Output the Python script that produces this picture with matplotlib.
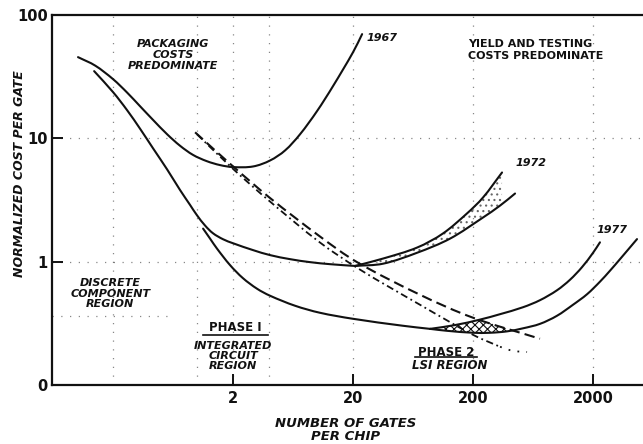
import numpy as np
import matplotlib
matplotlib.use("Agg")
import matplotlib.pyplot as plt
from matplotlib.path import Path
from matplotlib.patches import PathPatch

# ---- cost-per-gate curves: gates per chip vs. normalized cost per gate ----
gates_1967 = [0.102, 0.142, 0.2, 0.262, 0.336, 0.431, 0.564, 0.723, 0.928, 1.21,
              1.56, 2.0, 2.94, 4.07, 5.43, 7.23, 10.0, 13.6, 20.0, 23.8]
cost_1967 = [45.6, 38.9, 30.2, 23.5, 18.2, 14.1, 10.8, 8.71, 7.34, 6.53,
             6.07, 5.85, 5.92, 6.62, 7.99, 10.8, 16.6, 26.5, 50.0, 70.1]

gates_1972 = [0.139, 0.2, 0.262, 0.336, 0.431, 0.564, 0.723, 0.877, 1.0, 1.17,
              1.36, 1.65, 2.0, 2.94, 4.07, 5.97, 8.77, 12.9, 20.8]
cost_1972 = [35.1, 23.7, 16.9, 11.95, 8.29, 5.60, 3.81, 2.88, 2.38, 1.96,
             1.70, 1.52, 1.41, 1.24, 1.13, 1.048, 0.991, 0.954, 0.923]
gates_1972_hi = [20.8, 35.6, 68.2, 112, 178, 242, 349]
cost_1972_hi = [0.923, 1.06, 1.30, 1.69, 2.46, 3.31, 5.29]
gates_1972_lo = [20.8, 35.6, 68.2, 129, 242, 336, 448]
cost_1972_lo = [0.923, 0.963, 1.18, 1.54, 2.28, 2.85, 3.57]

gates_1977 = [1.125, 1.286, 1.47, 1.888, 2.42, 3.17, 4.07, 6.57, 10.6, 20.0, 52.2, 87.7]
cost_1977 = [1.854, 1.538, 1.275, 0.937, 0.734, 0.603, 0.529, 0.439, 0.385, 0.344, 0.302, 0.285]
gates_1977_hi = [87.7, 141.6, 229, 336, 522, 723, 1002, 1286, 1619, 2000, 2286]
cost_1977_hi = [0.285, 0.306, 0.339, 0.375, 0.427, 0.487, 0.586, 0.713, 0.902, 1.179, 1.435]
gates_1977_lo = [87.7, 121, 200, 277, 384, 522, 723, 1002, 1362, 1783, 2286, 2773,
                 3358, 4655]
cost_1977_lo = [0.285, 0.275, 0.265, 0.265, 0.272, 0.288, 0.313, 0.364, 0.447, 0.544,
                0.688, 0.845, 1.048, 1.524]

# ---- minimum-cost trend lines ----
gates_trend_a = [0.965, 2.0, 4.07, 10.6, 21.6, 72.3, 200, 723]
cost_trend_a = [11.2, 5.92, 3.28, 1.60, 0.991, 0.539, 0.351, 0.237]
gates_trend_b = [1.0, 2.0, 4.07, 10.6, 22.9, 72.3, 200, 336]
cost_trend_b = [10.8, 5.65, 3.07, 1.43, 0.861, 0.447, 0.255, 0.204]
gates_trend_b_tail = [336, 431, 564]
cost_trend_b_tail = [0.204, 0.189, 0.185]

x_ticks = [2, 20, 200, 2000]
x_tick_labels = ["2", "20", "200", "2000"]
y_ticks = [0.1, 1, 10, 100]
y_tick_labels = ["0", "1", "10", "100"]

grid_x = [0.2, 1.0, 2.0, 4.0, 20, 200, 2000]
grid_y = [1, 10]

plt.rcParams["font.family"] = ["DejaVu Sans"]
plt.rcParams["hatch.linewidth"] = 0.8
INK = "#111111"

fig = plt.figure(figsize=(6.43, 4.44), dpi=100)
ax = fig.add_axes([0.081, 0.133, 0.919, 0.833])
ax.set_xscale("log")
ax.set_yscale("log")
ax.set_xlim(0.062, 5222)
ax.set_ylim(0.1, 100)


def smooth_curve(xs, ys, **kw):
    """Draw a smooth Bezier curve through the points, built in log-log space."""
    p = np.column_stack([np.log10(xs), np.log10(ys)])
    n = len(p)
    tang = np.empty_like(p)
    tang[0] = p[1] - p[0]
    tang[-1] = p[-1] - p[-2]
    tang[1:-1] = p[2:] - p[:-2]
    tang /= np.linalg.norm(tang, axis=1)[:, None]
    verts = [p[0]]
    codes = [Path.MOVETO]
    for i in range(n - 1):
        d = np.linalg.norm(p[i + 1] - p[i]) / 3.0
        verts += [p[i] + tang[i] * d, p[i + 1] - tang[i + 1] * d, p[i + 1]]
        codes += [Path.CURVE4] * 3
    verts = 10 ** np.array(verts)
    patch = PathPatch(Path(verts, codes), fill=False, **kw)
    ax.add_patch(patch)
    return patch


def log_interp(xq, xs, ys):
    return 10 ** np.interp(np.log10(xq), np.log10(xs), np.log10(ys))


# faint dotted guide lines
for gx in grid_x:
    ax.axvline(gx, color=INK, lw=0.9, ls=(0, (1, 6)), alpha=0.5, zorder=1)
for gy in grid_y:
    ax.axhline(gy, color=INK, lw=0.9, ls=(0, (1, 6)), alpha=0.5, zorder=1)
ax.plot([0.062, 0.6], [0.36, 0.36], color=INK, lw=0.9, ls=(0, (1, 6)), alpha=0.5, zorder=1)

# stippled 1972 band
xb = np.geomspace(gates_1972_hi[0], gates_1972_hi[-1], 300)
ax.fill_between(xb, log_interp(xb, gates_1972_lo, cost_1972_lo),
                log_interp(xb, gates_1972_hi, cost_1972_hi),
                facecolor="none", edgecolor="#666666", hatch="...", lw=0, zorder=2)

# cross-hatched 1977 minimum region (below the upper branch and trend line)
xc = np.geomspace(gates_1977_hi[0], 600, 300)
top = np.minimum(log_interp(xc, gates_1977_hi, cost_1977_hi),
                 log_interp(xc, gates_trend_a, cost_trend_a))
bot = log_interp(xc, gates_1977_lo, cost_1977_lo)
ax.fill_between(xc, bot, top, where=(top > bot) & (xc > 110), facecolor="none",
                edgecolor=INK, hatch="xxxx", lw=0, zorder=2)

curve_kw = dict(edgecolor=INK, lw=1.5, capstyle="round", zorder=3)
smooth_curve(gates_1967, cost_1967, **curve_kw)
smooth_curve(gates_1972, cost_1972, **curve_kw)
smooth_curve(gates_1972_hi, cost_1972_hi, **curve_kw)
smooth_curve(gates_1972_lo, cost_1972_lo, **curve_kw)
smooth_curve(gates_1977, cost_1977, **curve_kw)
smooth_curve(gates_1977_hi, cost_1977_hi, **curve_kw)
smooth_curve(gates_1977_lo, cost_1977_lo, **curve_kw)

smooth_curve(gates_trend_a, cost_trend_a, edgecolor=INK, lw=1.5,
             ls=(0, (5, 2.5)), zorder=3)
smooth_curve(gates_trend_b, cost_trend_b, edgecolor=INK, lw=1.3,
             ls=(0, (4, 2, 1, 2)), zorder=3)
smooth_curve(gates_trend_b_tail, cost_trend_b_tail, edgecolor=INK, lw=1.3,
             ls=(0, (1, 4)), zorder=3)

# axes frame
for side in ("left", "bottom", "top"):
    ax.spines[side].set_linewidth(1.6)
    ax.spines[side].set_color(INK)
ax.spines["right"].set_visible(False)

ax.set_xticks(x_ticks)
ax.set_xticklabels(x_tick_labels)
ax.set_yticks(y_ticks)
ax.set_yticklabels(y_tick_labels)
ax.minorticks_off()
ax.tick_params(axis="both", direction="in", length=8, width=1.4, colors=INK,
               labelsize=10.5)
ax.tick_params(axis="x", pad=4)
ax.tick_params(axis="y", pad=3)
for lab in ax.get_xticklabels() + ax.get_yticklabels():
    lab.set_fontweight("bold")

bi = dict(fontweight="bold", fontstyle="italic", color=INK)
ax.text(0.632, 47.3, "PACKAGING\nCOSTS\nPREDOMINATE", ha="center", va="center",
        fontsize=8, linespacing=1.15, **bi)
ax.text(181.7, 51.9, "YIELD AND TESTING\nCOSTS PREDOMINATE", ha="left", va="center",
        fontsize=8, linespacing=1.25, fontweight="bold", color=INK)
ax.text(25.7, 65.0, "1967", ha="left", va="center", fontsize=8, **bi)
ax.text(448, 6.26, "1972", ha="left", va="center", fontsize=8, **bi)
ax.text(2159, 1.79, "1977", ha="left", va="center", fontsize=8, **bi)
ax.text(0.189, 0.549, "DISCRETE\nCOMPONENT\nREGION", ha="center", va="center",
        fontsize=8, linespacing=1.05, **bi)
ax.text(2.08, 0.290, "PHASE I", ha="center", va="center", fontsize=8.5,
        fontweight="bold", color=INK)
ax.plot([0.2555, 0.3655], [0.135, 0.135], transform=ax.transAxes, color=INK, lw=1.2)
ax.text(2.0, 0.172, "INTEGRATED\nCIRCUIT\nREGION", ha="center", va="center",
        fontsize=8, linespacing=1.0, **bi)
ax.text(119, 0.182, "PHASE 2", ha="center", va="center", fontsize=8.5,
        fontweight="bold", color=INK)
ax.plot([0.614, 0.719], [0.0757, 0.0757], transform=ax.transAxes, color=INK, lw=1.2)
ax.text(129, 0.143, "LSI REGION", ha="center", va="center", fontsize=8.5, **bi)

fig.text(0.538, 0.0315, "NUMBER OF GATES\nPER CHIP", ha="center", va="center",
         fontsize=9.5, linespacing=1.0, **bi)
fig.text(0.031, 0.610, "NORMALIZED COST PER GATE", ha="center", va="center",
         rotation=90, fontsize=9, **bi)

fig.savefig("out.png", dpi=100)
